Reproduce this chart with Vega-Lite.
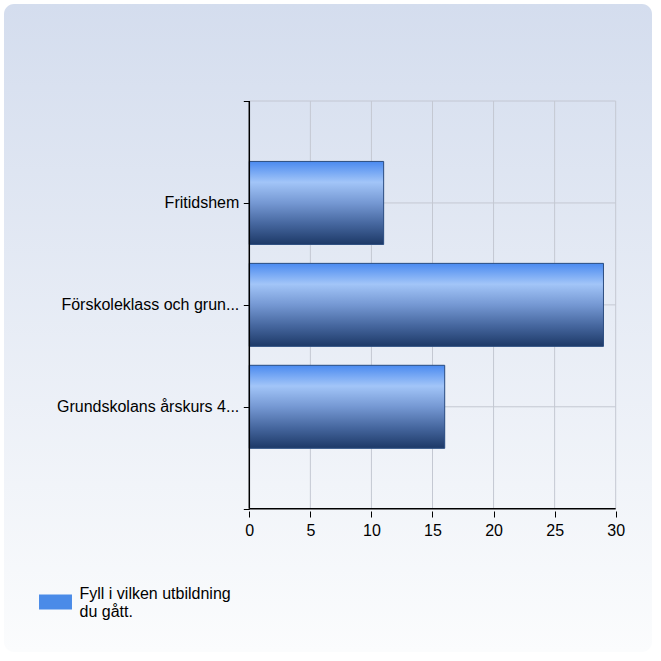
{
  "$schema": "https://vega.github.io/schema/vega-lite/v6.json",
  "autosize": "none",
  "width": 648,
  "height": 648,
  "padding": {"left": 4, "top": 4, "right": 9, "bottom": 9},
  "datasets": {
    "svar": [
      {"utbildning": "Fritidshem", "antal": 11, "ordning": 1, "serie": "Fyll i vilken utbildning du gått."},
      {"utbildning": "Förskoleklass och grun...", "antal": 29, "ordning": 2, "serie": "Fyll i vilken utbildning du gått."},
      {"utbildning": "Grundskolans årskurs 4...", "antal": 16, "ordning": 3, "serie": "Fyll i vilken utbildning du gått."}
    ],
    "xgrid": [{"v": 5}, {"v": 10}, {"v": 15}, {"v": 20}, {"v": 25}, {"v": 30}],
    "ygrid": [{"p": 0}, {"p": 1}, {"p": 2}, {"p": 3}]
  },
  "layer": [
    {
      "data": {"name": "xgrid"},
      "mark": {"type": "rule", "color": "#c4c8d2", "strokeWidth": 1},
      "encoding": {
        "x": {"field": "v", "type": "quantitative", "title": null},
        "y": {"datum": 0},
        "y2": {"datum": 4}
      }
    },
    {
      "data": {"name": "ygrid"},
      "mark": {"type": "rule", "color": "#c4c8d2", "strokeWidth": 1},
      "encoding": {
        "y": {"field": "p", "type": "quantitative", "title": null},
        "x": {"datum": 0},
        "x2": {"datum": 30}
      }
    },
    {
      "data": {"name": "svar"},
      "mark": {"type": "bar", "orient": "horizontal", "size": 83},
      "encoding": {
        "x": {
          "field": "antal",
          "type": "quantitative",
          "title": null,
          "scale": {"domain": [-20.085, 32.973], "nice": false, "zero": false},
          "axis": {
            "values": [0, 5, 10, 15, 20, 25, 30],
            "offset": -141,
            "domain": false,
            "grid": false,
            "tickSize": 6,
            "tickColor": "#000000",
            "labelPadding": 5,
            "labelFont": "Liberation Sans",
            "labelFontSize": 16,
            "labelColor": "#000000"
          }
        },
        "x2": {"datum": 0},
        "y": {
          "field": "ordning",
          "type": "quantitative",
          "title": null,
          "scale": {"domain": [-0.903, 5.357], "nice": false, "zero": false, "reverse": true},
          "axis": {
            "values": [0, 1, 2, 3, 4],
            "offset": -245.3,
            "domain": false,
            "grid": false,
            "labels": false,
            "tickSize": 6,
            "tickColor": "#000000"
          }
        },
        "color": {
          "field": "serie",
          "type": "nominal",
          "scale": {"range": ["#4a8be8"]},
          "legend": {
            "title": null,
            "orient": "none",
            "legendX": 35.5,
            "legendY": 582,
            "padding": 0,
            "symbolType": "M-1.03,-0.47H1.03V0.47H-1.03Z",
            "symbolSize": 1024,
            "symbolStrokeWidth": 0,
            "symbolOpacity": 1,
            "labelOffset": 8,
            "labelBaseline": "bottom",
            "labelFont": "Liberation Sans",
            "labelFontSize": 16,
            "labelColor": "#000000",
            "labelLimit": 400,
            "labelExpr": "[slice(datum.label, 0, 24), slice(datum.label, 25)]"
          }
        }
      }
    },
    {
      "data": {"name": "svar"},
      "mark": {
        "type": "bar",
        "orient": "horizontal",
        "size": 83,
        "stroke": "#2f4f80",
        "strokeWidth": 1,
        "fill": {
          "gradient": "linear",
          "x1": 0, "y1": 0, "x2": 0, "y2": 1,
          "stops": [
            {"offset": 0, "color": "#4a8af0"},
            {"offset": 0.25, "color": "#a2c5f8"},
            {"offset": 0.5, "color": "#7598d3"},
            {"offset": 0.75, "color": "#46679f"},
            {"offset": 1, "color": "#1d3967"}
          ]
        }
      },
      "encoding": {
        "x": {"field": "antal", "type": "quantitative", "title": null},
        "x2": {"datum": 0},
        "y": {"field": "ordning", "type": "quantitative", "title": null}
      }
    },
    {
      "data": {"values": [{}]},
      "mark": {"type": "rule", "color": "#000000", "strokeWidth": 1.5},
      "encoding": {"x": {"datum": 0}, "y": {"datum": 0}, "y2": {"datum": 4}}
    },
    {
      "data": {"values": [{}]},
      "mark": {"type": "rule", "color": "#000000", "strokeWidth": 1.5},
      "encoding": {"y": {"datum": 4}, "x": {"datum": 0}, "x2": {"datum": 30}}
    },
    {
      "data": {"name": "svar"},
      "mark": {
        "type": "text",
        "align": "right",
        "baseline": "middle",
        "dx": -10,
        "font": "Liberation Sans",
        "fontSize": 16,
        "color": "#000000"
      },
      "encoding": {
        "text": {"field": "utbildning"},
        "x": {"datum": 0},
        "y": {"field": "ordning", "type": "quantitative", "title": null}
      }
    }
  ],
  "config": {
    "view": {
      "stroke": null,
      "cornerRadius": 10,
      "fill": {
        "gradient": "linear",
        "x1": 0, "y1": 0, "x2": 0, "y2": 1,
        "stops": [
          {"offset": 0, "color": "#d4ddee"},
          {"offset": 1, "color": "#fbfcfd"}
        ]
      }
    }
  }
}
